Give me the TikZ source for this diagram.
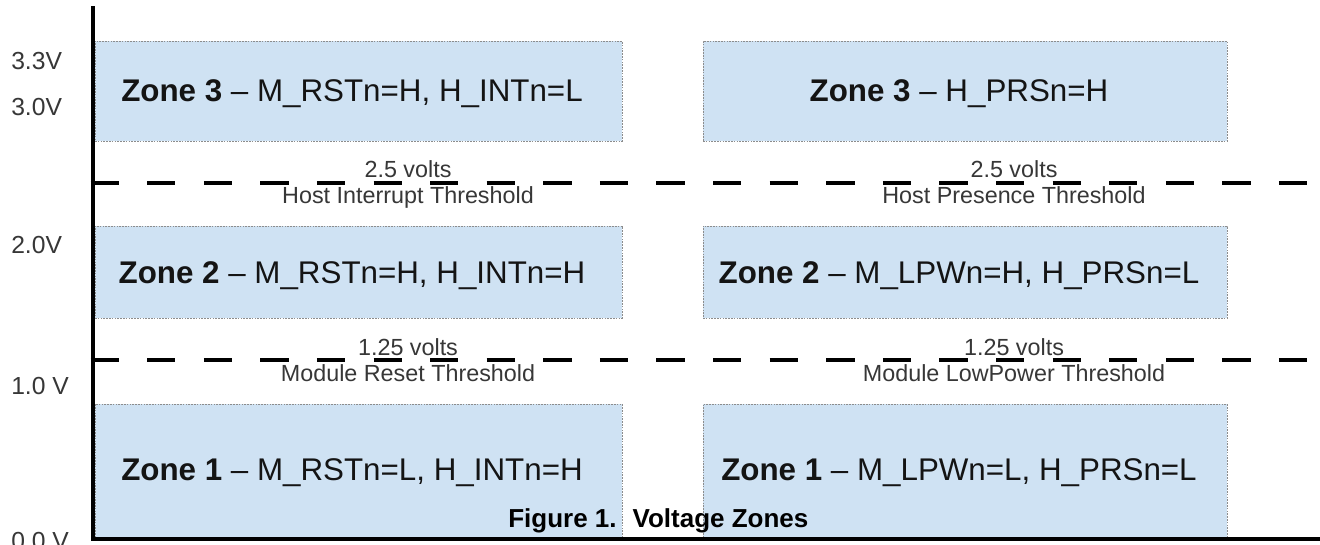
\documentclass[tikz,border=0pt]{standalone}
\usepackage{fontspec}
\setmainfont{Liberation Sans}
\definecolor{zonefill}{RGB}{207,226,243}
\definecolor{zoneedge}{RGB}{140,140,140}
\definecolor{labelgray}{RGB}{55,55,55}
\begin{document}
\begin{tikzpicture}[x=0.75pt,y=-0.75pt,
  zonebox/.style={draw=zoneedge, line width=0.6pt, dash pattern=on 1.2pt off 0.9pt,
    fill=zonefill, rectangle, inner sep=0pt},
  zonetext/.style={anchor=base, inner sep=0pt, font=\fontsize{23.5}{28}\selectfont, text=black!92},
  thrtext/.style={anchor=base, inner sep=0pt, font=\fontsize{17.5}{21}\selectfont, text=labelgray},
  axtext/.style={anchor=base west, inner sep=0pt, font=\fontsize{18.5}{22}\selectfont, text=labelgray},
  captext/.style={anchor=base west, inner sep=0pt, font=\fontsize{19.5}{23}\selectfont\bfseries, text=black},
  thrline/.style={line width=3.7pt, dash pattern=on 21.22pt off 21.22pt},
  axisline/.style={line width=3.6pt, line cap=rect}]
\useasboundingbox (0,0) rectangle (1320,545);
\fill[white] (0,0) rectangle (1320,545);

% zone boxes
\node[zonebox, minimum width=395.25pt, minimum height=75pt] (z3l) at (358.5,91) {};
\node[zonebox, minimum width=393pt, minimum height=75pt] (z3r) at (965,91) {};
\node[zonebox, minimum width=395.25pt, minimum height=69pt] (z2l) at (358.5,272) {};
\node[zonebox, minimum width=393pt, minimum height=69pt] (z2r) at (965,272) {};
\node[zonebox, minimum width=395.25pt, minimum height=99.75pt] (z1l) at (358.5,470.5) {};
\node[zonebox, minimum width=393pt, minimum height=99.75pt] (z1r) at (965,470.5) {};

% zone texts
\node[zonetext] (t3l) at (352,102) {\textbf{Zone 3} – M\_RSTn=H, H\_INTn=L};
\node[zonetext] (t3r) at (959,102) {\textbf{Zone 3} – H\_PRSn=H};
\node[zonetext] (t2l) at (352,283) {\textbf{Zone 2} – M\_RSTn=H, H\_INTn=H};
\node[zonetext] (t2r) at (959,283) {\textbf{Zone 2} – M\_LPWn=H, H\_PRSn=L};
\node[zonetext] (t1l) at (352,480) {\textbf{Zone 1} – M\_RSTn=L, H\_INTn=H};
\node[zonetext] (t1r) at (959,480) {\textbf{Zone 1} – M\_LPWn=L, H\_PRSn=L};

% threshold labels
\node[thrtext] (v1l) at (408,178) {2.5 volts};
\node[thrtext] (h1l) at (408,204) {Host Interrupt Threshold};
\node[thrtext] (v1r) at (1014,178) {2.5 volts};
\node[thrtext] (h1r) at (1014,204) {Host Presence Threshold};
\node[thrtext] (v2l) at (408,355) {1.25 volts};
\node[thrtext] (h2l) at (408,381) {Module Reset Threshold};
\node[thrtext] (v2r) at (1014,355) {1.25 volts};
\node[thrtext] (h2r) at (1014,381) {Module LowPower Threshold};

% threshold lines
\coordinate (l1s) at (90.6,183);
\coordinate (l1e) at (1322,183);
\coordinate (l2s) at (90.6,360);
\coordinate (l2e) at (1322,360);
\draw[thrline] (l1s) -- (l1e);
\draw[thrline] (l2s) -- (l2e);

% axis labels
\node[axtext] (a33) at (11,70) {3.3V};
\node[axtext] (a30) at (11,116) {3.0V};
\node[axtext] (a20) at (11,254) {2.0V};
\node[axtext] (a10) at (11,394) {1.0 V};
\node[axtext] (a00) at (11,549) {0.0 V};

% axes
\coordinate (atop) at (93,8);
\coordinate (aorg) at (93,539);
\coordinate (aend) at (1324,539);
\draw[axisline] (atop) -- (aorg) -- (aend);

% caption
\node[captext] (cap) at (508,527) {Figure 1.\hspace{12pt}Voltage Zones};
\end{tikzpicture}
\end{document}
